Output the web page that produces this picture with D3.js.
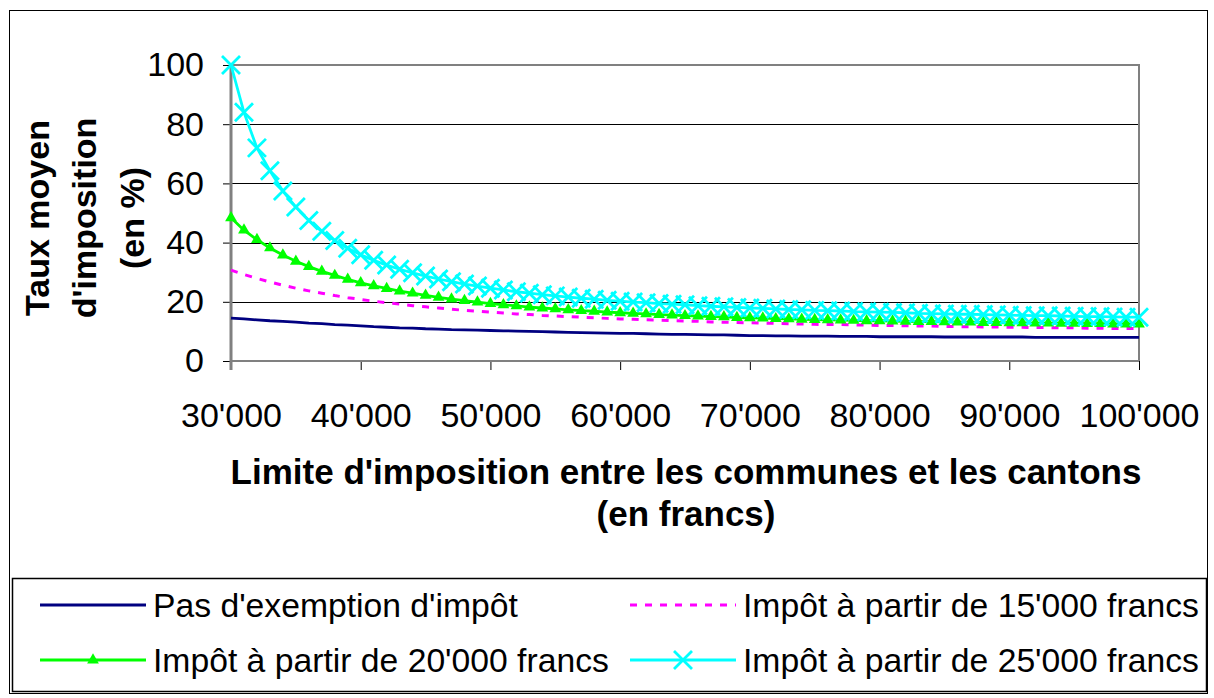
<!DOCTYPE html>
<html>
<head>
<meta charset="utf-8">
<script src="https://cdn.jsdelivr.net/npm/d3@7"></script>
<style>
  body { margin: 0; background: #fff; }
  svg { display: block; }
  text { font-family: "Liberation Sans", Arial, sans-serif; fill: #000; }
</style>
</head>
<body>
<svg id="chart"></svg>
<script>
// x categories: limite d'imposition, every 1'000 francs
const limits = d3.range(30000, 100001, 1000);

// Taux moyen d'imposition (en %)
const noExemption = [
  14.5, 14.2, 13.9, 13.6, 13.4, 13.1, 12.8, 12.6, 12.3, 12.1,
  11.9, 11.6, 11.4, 11.2, 11.1, 10.9, 10.8, 10.6, 10.5, 10.4,
  10.3, 10.2, 10.1, 10.0, 9.9, 9.8, 9.7, 9.6, 9.5, 9.4,
  9.3, 9.3, 9.2, 9.1, 9.0, 9.0, 8.9, 8.8, 8.8, 8.7,
  8.6, 8.6, 8.5, 8.5, 8.4, 8.4, 8.4, 8.3, 8.3, 8.3,
  8.2, 8.2, 8.2, 8.2, 8.2, 8.1, 8.1, 8.1, 8.1, 8.1,
  8.1, 8.1, 8.0, 8.0, 8.0, 8.0, 8.0, 8.0, 8.0, 8.0, 8.0
];
const from15000 = [
  30.7, 29.2, 27.9, 26.7, 25.6, 24.6, 23.7, 22.9, 22.1, 21.4,
  20.8, 20.2, 19.7, 19.2, 18.7, 18.3, 17.9, 17.5, 17.1, 16.8,
  16.5, 16.2, 15.9, 15.7, 15.4, 15.2, 15.0, 14.8, 14.6, 14.4,
  14.2, 14.1, 13.9, 13.8, 13.6, 13.5, 13.4, 13.2, 13.1, 13.0,
  12.9, 12.8, 12.7, 12.6, 12.5, 12.4, 12.3, 12.3, 12.2, 12.1,
  12.0, 12.0, 11.9, 11.8, 11.8, 11.7, 11.6, 11.6, 11.5, 11.5,
  11.4, 11.4, 11.3, 11.3, 11.2, 11.2, 11.1, 11.1, 11.0, 11.0, 11.0
];
const from20000 = [
  48.4, 44.2, 41.0, 38.2, 35.8, 33.7, 31.9, 30.3, 28.9, 27.6,
  26.4, 25.4, 24.5, 23.6, 22.9, 22.2, 21.5, 20.9, 20.4, 19.9,
  19.4, 19.0, 18.6, 18.2, 17.9, 17.6, 17.3, 17.0, 16.8, 16.5,
  16.3, 16.1, 15.9, 15.7, 15.5, 15.3, 15.2, 15.0, 14.9, 14.7,
  14.6, 14.5, 14.3, 14.2, 14.1, 14.0, 13.9, 13.8, 13.7, 13.6,
  13.6, 13.5, 13.4, 13.3, 13.3, 13.2, 13.1, 13.1, 13.0, 13.0,
  12.9, 12.9, 12.8, 12.8, 12.7, 12.7, 12.6, 12.6, 12.5, 12.5, 12.5
];
const from25000 = [
  100, 84.0, 72.0, 64.3, 57.4, 52.0, 47.5, 43.8, 40.7, 38.1,
  35.9, 34.0, 32.4, 31.0, 29.8, 28.7, 27.7, 26.8, 26.0, 25.3,
  24.6, 24.0, 23.4, 22.9, 22.4, 22.0, 21.6, 21.2, 20.9, 20.5,
  20.2, 19.9, 19.7, 19.4, 19.2, 19.0, 18.7, 18.5, 18.3, 18.1,
  17.9, 17.8, 17.6, 17.4, 17.3, 17.1, 17.0, 16.9, 16.7, 16.6,
  16.5, 16.4, 16.3, 16.1, 16.0, 15.9, 15.8, 15.8, 15.7, 15.6,
  15.5, 15.4, 15.3, 15.3, 15.2, 15.1, 15.0, 15.0, 14.9, 14.8, 14.8
];

const xTicks = [30000, 40000, 50000, 60000, 70000, 80000, 90000, 100000];
const yTicks = [0, 20, 40, 60, 80, 100];

const seriesNames = [
  "Pas d'exemption d'impôt",
  "Impôt à partir de 15'000 francs",
  "Impôt à partir de 20'000 francs",
  "Impôt à partir de 25'000 francs"
];

const width = 1214, height = 698;
const svg = d3.select("#chart").attr("width", width).attr("height", height);

const fontSize = 34;

//Scales
const x = d3.scaleLinear().domain([30000, 100000]).range([231, 1139]);
const y = d3.scaleLinear().domain([0, 100]).range([361, 65]);

const series = [
  {name: seriesNames[0], values: noExemption, color: "#000080", dash: null, marker: null},
  {name: seriesNames[1], values: from15000, color: "#FF00FF", dash: "7,8", marker: null},
  {name: seriesNames[2], values: from20000, color: "#00FF00", dash: null, marker: "tri"},
  {name: seriesNames[3], values: from25000, color: "#00FFFF", dash: null, marker: "x"}
];

//Outer border
svg.append("rect")
  .attr("x", 9.5).attr("y", 10.5)
  .attr("width", 1198).attr("height", 683)
  .attr("fill", "#fff").attr("stroke", "#000").attr("stroke-width", 1);

//Gridlines
svg.append("g")
  .selectAll("line")
  .data(yTicks.filter(d => d > 0 && d < 100))
  .join("line")
  .attr("x1", x(30000)).attr("x2", x(100000))
  .attr("y1", d => Math.round(y(d)) + 0.5).attr("y2", d => Math.round(y(d)) + 0.5)
  .attr("stroke", "#000").attr("stroke-width", 1);

//Plot border
svg.append("rect")
  .attr("x", x(30000)).attr("y", y(100))
  .attr("width", x(100000) - x(30000)).attr("height", y(0) - y(100))
  .attr("fill", "none").attr("stroke", "#808080").attr("stroke-width", 2);

//Axes
const yAxis = d3.axisLeft(y).tickValues(yTicks).tickSize(8).tickPadding(19);
const yAxisG = svg.append("g")
  .attr("transform", `translate(${x(30000)},0)`)
  .call(yAxis);
yAxisG.select(".domain").remove();
yAxisG.selectAll("line").attr("stroke", "#000");
yAxisG.selectAll("text").attr("font-size", fontSize).attr("font-family", null);

const xAxis = d3.axisBottom(x).tickValues(xTicks).tickSize(9).tickPadding(33)
  .tickFormat(d => (d / 1000) + "'000");
const xAxisG = svg.append("g")
  .attr("transform", `translate(0,${y(0)})`)
  .call(xAxis);
xAxisG.select(".domain").remove();
xAxisG.selectAll("line").attr("stroke", "#000");
xAxisG.selectAll("text").attr("font-size", fontSize).attr("font-family", null);

svg.append("line")
  .attr("x1", x(30000)).attr("x2", x(30000))
  .attr("y1", y(100)).attr("y2", y(0) + 9)
  .attr("stroke", "#808080").attr("stroke-width", 3);
svg.append("line")
  .attr("x1", x(30000)).attr("x2", x(100000))
  .attr("y1", y(0)).attr("y2", y(0))
  .attr("stroke", "#808080").attr("stroke-width", 2);

//Lines
const line = d3.line()
  .x((d, i) => x(limits[i]))
  .y(d => y(d));

const triangle = d3.symbol().type(d3.symbolTriangle).size(60);

function drawMarker(g, type, color, cx, cy) {
  if (type === "tri") {
    g.append("path")
      .attr("d", triangle())
      .attr("transform", `translate(${cx},${cy})`)
      .attr("fill", color);
  } else if (type === "x") {
    const s = 9;
    g.append("path")
      .attr("d", `M${cx - s},${cy - s}L${cx + s},${cy + s}M${cx - s},${cy + s}L${cx + s},${cy - s}`)
      .attr("stroke", color).attr("stroke-width", 2.8).attr("fill", "none");
  }
}

series.forEach(s => {
  const g = svg.append("g");
  g.append("path")
    .datum(s.values)
    .attr("d", line)
    .attr("fill", "none")
    .attr("stroke", s.color)
    .attr("stroke-width", s.dash ? 3 : 2.8)
    .attr("stroke-dasharray", s.dash);
  if (s.marker) {
    s.values.forEach((v, i) => drawMarker(g, s.marker, s.color, x(limits[i]), y(v)));
  }
});

//Axis titles
const yTitle = svg.append("text")
  .attr("transform", "translate(84,218) rotate(-90)")
  .attr("text-anchor", "middle")
  .attr("font-size", fontSize)
  .attr("font-weight", "bold");
["Taux moyen", "d'imposition", "(en %)"].forEach((t, i) => {
  yTitle.append("tspan").attr("x", 0).attr("y", (i - 1) * 47.5 + 12).text(t);
});

svg.append("text")
  .attr("x", 686).attr("y", 484)
  .attr("text-anchor", "middle")
  .attr("font-size", 35).attr("font-weight", "bold")
  .text("Limite d'imposition entre les communes et les cantons");
svg.append("text")
  .attr("x", 686).attr("y", 526)
  .attr("text-anchor", "middle")
  .attr("font-size", 35).attr("font-weight", "bold")
  .text("(en francs)");

//Legend
svg.append("rect")
  .attr("x", 12.5).attr("y", 578.5)
  .attr("width", 1194).attr("height", 113)
  .attr("fill", "#fff").attr("stroke", "#000").attr("stroke-width", 1.5);

const legendPos = [
  {x: 40, y: 605}, {x: 630, y: 605},
  {x: 40, y: 660}, {x: 630, y: 660}
];
series.forEach((s, i) => {
  const p = legendPos[i];
  const g = svg.append("g");
  g.append("line")
    .attr("x1", p.x).attr("x2", p.x + 106)
    .attr("y1", p.y).attr("y2", p.y)
    .attr("stroke", s.color).attr("stroke-width", 2.8)
    .attr("stroke-dasharray", s.dash);
  if (s.marker) drawMarker(g, s.marker, s.color, p.x + 53, p.y);
  g.append("text")
    .attr("x", p.x + 113).attr("y", p.y)
    .attr("dy", "0.35em")
    .attr("font-size", 33.7)
    .text(s.name);
});
</script>
</body>
</html>
